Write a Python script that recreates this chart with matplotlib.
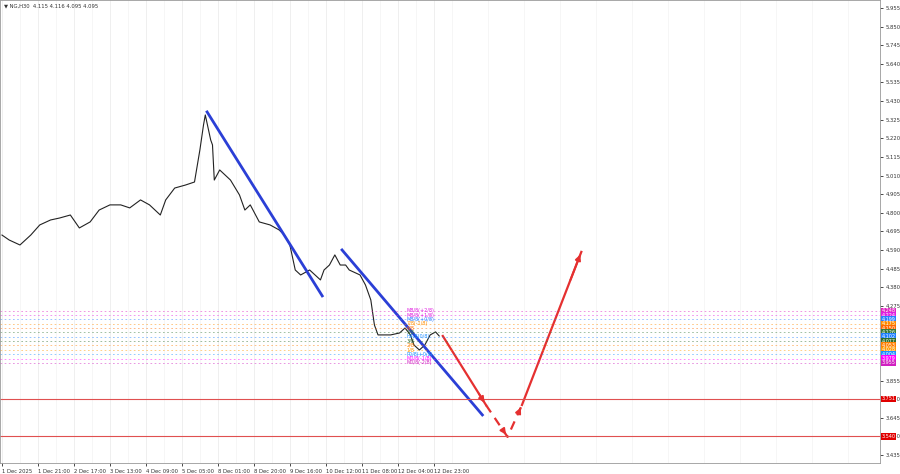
import matplotlib
matplotlib.use("Agg")
import matplotlib.pyplot as plt
import numpy as np

hours = [0,4,10,16,21,27,32,38,43,49,54,60,66,71,77,82,88,91,96,102,107,110,112,113,116,117,118,121,127,132,135,138,143,149,154,157,160,163,166,171,177,179,182,185,188,191,193,199,202,205,207,209,216,221,224,227,229,232,235,238,241,243]
prices = [4.675,4.647,4.619,4.675,4.732,4.760,4.771,4.788,4.715,4.749,4.816,4.845,4.845,4.828,4.873,4.845,4.788,4.873,4.940,4.957,4.974,5.155,5.295,5.352,5.211,5.183,4.985,5.042,4.985,4.901,4.816,4.845,4.749,4.732,4.704,4.675,4.619,4.478,4.450,4.478,4.422,4.478,4.506,4.563,4.506,4.506,4.478,4.450,4.394,4.309,4.168,4.112,4.112,4.123,4.151,4.112,4.055,4.027,4.055,4.112,4.129,4.106]
hours = hours[:len(prices)]

trend1 = ([114,178],[5.369,4.332])
trend2 = ([189,267],[4.591,3.661])
proj_h = [245,269,281,289,322]
proj_p = [4.106,3.717,3.537,3.717,4.580]

levels = [4.248,4.224,4.199,4.175,4.150,4.126,4.102,4.077,4.053,4.028,4.004,3.979,3.955]
level_colors = ['#e020c0','#e020e0','#2a7fff','#ff8c00','#ff6a00','#3a7a3a','#1e7fff','#2f6f2f','#ff7f00','#ff9900','#1e90ff','#ff00ff','#d020c0']
red_levels = [3.751,3.540]

xtick_h = [0,20,40,60,80,100,120,140,160,180,200,220,240]
xtick_labels = ['1 Dec 2025','1 Dec 21:00','2 Dec 17:00','3 Dec 13:00','4 Dec 09:00','5 Dec 05:00','8 Dec 01:00','8 Dec 20:00','9 Dec 16:00','10 Dec 12:00','11 Dec 08:00','12 Dec 04:00','12 Dec 23:00']
yticks = [5.955,5.850,5.745,5.640,5.535,5.430,5.325,5.220,5.115,5.010,4.905,4.800,4.695,4.590,4.485,4.380,4.275,3.855,3.750,3.645,3.540,3.435]

fig = plt.figure(figsize=(9,4.74), dpi=100)
ax = fig.add_axes([0.0, 11/474, 880/900, 463/474])
ax.set_xlim(-1.1, 488)
ax.set_ylim(3.39, 6.0)
for h in xtick_h:
    ax.axvline(h, color='#ececec', lw=0.6, zorder=0)
for h in np.arange(10, 488, 20):
    ax.axvline(h, color='#f3f3f3', lw=0.5, zorder=0)

ax.plot(hours, prices, color='#222222', lw=0.8)
ax.plot(*trend1, color='#2b3fd6', lw=2)
ax.plot(*trend2, color='#2b3fd6', lw=2)

ax.plot(proj_h[:2], proj_p[:2], color='#e53030', lw=1.6)
ax.plot(proj_h[1:4], proj_p[1:4], color='#e53030', lw=1.6, ls=(0,(4,3)))
ax.plot(proj_h[3:], proj_p[3:], color='#e53030', lw=1.6)
for i in [0,2,3]:
    ax.annotate('', xy=(proj_h[i+1], proj_p[i+1]), xytext=(proj_h[i]+0.8*(proj_h[i+1]-proj_h[i]), proj_p[i]+0.8*(proj_p[i+1]-proj_p[i])),
                arrowprops=dict(arrowstyle='-|>', color='#e53030', lw=1.4, mutation_scale=8))
ax.annotate('', xy=(proj_h[2], proj_p[2]), xytext=(proj_h[1]+0.8*(proj_h[2]-proj_h[1]), proj_p[1]+0.8*(proj_p[2]-proj_p[1])),
            arrowprops=dict(arrowstyle='-|>', color='#e53030', lw=1.4, mutation_scale=8))

for lv, c in zip(levels, level_colors):
    ax.axhline(lv, color=c, lw=0.6, ls=(0,(2,3)), alpha=0.55)
    ax.text(1.002, lv, f'{lv:.3f}', transform=ax.get_yaxis_transform(), fontsize=3.5, color='white',
            va='center', ha='left', bbox=dict(boxstyle='square,pad=0.15', fc=c, ec='none'), clip_on=False)
for lv in red_levels:
    ax.axhline(lv, color='#e05050', lw=0.8)
    ax.text(1.002, lv, f'{lv:.3f}', transform=ax.get_yaxis_transform(), fontsize=3.5, color='white',
            va='center', ha='left', bbox=dict(boxstyle='square,pad=0.15', fc='#e00000', ec='none'), clip_on=False)

labels = [('M8/8(+2/8)',4.248,'#e020e0'),('M8/8(+1/8)',4.224,'#e020e0'),('M8/8(+0/8)',4.199,'#2a7fff'),('7/8(-1/8)',4.175,'#ff8c00'),
          ('6/8',4.150,'#ff6a00'),('5/8',4.126,'#3a7a3a'),('H4/8(0/8)',4.102,'#1e90ff'),('3/8',4.077,'#2f6f2f'),('2/8',4.053,'#ff7f00'),
          ('1/8',4.028,'#ff9900'),('P0/8(+0/8)',4.004,'#1e90ff'),('M0/8(-1/8)',3.979,'#ff00ff'),('M0/8(-2/8)',3.955,'#d020c0')]
for t, y, c in labels:
    ax.text(225, y, t, fontsize=3.5, color=c, ha='left', va='center')

ax.yaxis.tick_right()
ax.set_yticks(yticks)
ax.set_yticklabels([f'{v:.3f}' for v in yticks], fontsize=3.8, color='#333333')
ax.set_xticks(xtick_h)
ax.set_xticklabels(xtick_labels, fontsize=3.8, color='#333333', ha='left')
ax.tick_params(length=2, width=0.5, pad=2)
for s in ax.spines.values():
    s.set_color('#999999'); s.set_linewidth(0.6)
ax.text(0.004, 0.992, '▼ NG,H30  4.115 4.116 4.095 4.095', transform=ax.transAxes, fontsize=3.8, va='top', color='#333333')

fig.savefig('out.png', dpi=100)
